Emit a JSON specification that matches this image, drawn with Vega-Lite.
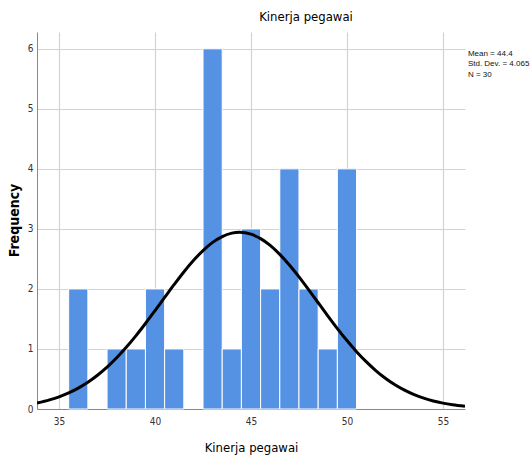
{
  "$schema": "https://vega.github.io/schema/vega-lite/v6.json",
  "width": 428,
  "height": 377,
  "autosize": {"type": "none"},
  "padding": {"left": 37, "top": 32, "right": 67, "bottom": 47},
  "background": "white",
  "config": {
    "view": {"stroke": null},
    "font": "DejaVu Sans Condensed, Liberation Sans",
    "axis": {"labelFont": "DejaVu Sans Condensed, Liberation Sans", "titleFont": "DejaVu Sans Condensed, Liberation Sans"}
  },
  "title": {
    "text": "Kinerja pegawai",
    "anchor": "middle",
    "frame": "group",
    "dx": 55,
    "offset": 8,
    "fontSize": 13,
    "fontWeight": "normal",
    "color": "#000000",
    "font": "DejaVu Sans Condensed, Liberation Sans"
  },
  "datasets": {
    "bars": [
      {"bin_start": 35.5, "bin_end": 36.5, "count": 2},
      {"bin_start": 37.5, "bin_end": 38.5, "count": 1},
      {"bin_start": 38.5, "bin_end": 39.5, "count": 1},
      {"bin_start": 39.5, "bin_end": 40.5, "count": 2},
      {"bin_start": 40.5, "bin_end": 41.5, "count": 1},
      {"bin_start": 42.5, "bin_end": 43.5, "count": 6},
      {"bin_start": 43.5, "bin_end": 44.5, "count": 1},
      {"bin_start": 44.5, "bin_end": 45.5, "count": 3},
      {"bin_start": 45.5, "bin_end": 46.5, "count": 2},
      {"bin_start": 46.5, "bin_end": 47.5, "count": 4},
      {"bin_start": 47.5, "bin_end": 48.5, "count": 2},
      {"bin_start": 48.5, "bin_end": 49.5, "count": 1},
      {"bin_start": 49.5, "bin_end": 50.5, "count": 4}
    ],
    "curve": [
      {"x": 33.85, "y": 0.100},
      {"x": 34.5, "y": 0.152},
      {"x": 35.0, "y": 0.203},
      {"x": 35.5, "y": 0.268},
      {"x": 36.0, "y": 0.348},
      {"x": 36.5, "y": 0.445},
      {"x": 37.0, "y": 0.562},
      {"x": 37.5, "y": 0.697},
      {"x": 38.0, "y": 0.853},
      {"x": 38.5, "y": 1.027},
      {"x": 39.0, "y": 1.218},
      {"x": 39.5, "y": 1.424},
      {"x": 40.0, "y": 1.639},
      {"x": 40.5, "y": 1.858},
      {"x": 41.0, "y": 2.075},
      {"x": 41.5, "y": 2.283},
      {"x": 42.0, "y": 2.473},
      {"x": 42.5, "y": 2.639},
      {"x": 43.0, "y": 2.775},
      {"x": 43.5, "y": 2.873},
      {"x": 44.0, "y": 2.930},
      {"x": 44.4, "y": 2.944},
      {"x": 45.0, "y": 2.912},
      {"x": 45.5, "y": 2.838},
      {"x": 46.0, "y": 2.725},
      {"x": 46.5, "y": 2.576},
      {"x": 47.0, "y": 2.399},
      {"x": 47.5, "y": 2.201},
      {"x": 48.0, "y": 1.989},
      {"x": 48.5, "y": 1.770},
      {"x": 49.0, "y": 1.552},
      {"x": 49.5, "y": 1.340},
      {"x": 50.0, "y": 1.140},
      {"x": 50.5, "y": 0.955},
      {"x": 51.0, "y": 0.788},
      {"x": 51.5, "y": 0.641},
      {"x": 52.0, "y": 0.513},
      {"x": 52.5, "y": 0.404},
      {"x": 53.0, "y": 0.314},
      {"x": 53.5, "y": 0.240},
      {"x": 54.0, "y": 0.181},
      {"x": 54.5, "y": 0.134},
      {"x": 55.0, "y": 0.098},
      {"x": 55.5, "y": 0.071},
      {"x": 56.15, "y": 0.045}
    ],
    "stats": [
      {"x": 56.3, "y": 5.92, "label": "Mean = 44.4"},
      {"x": 56.3, "y": 5.745, "label": "Std. Dev. = 4.065"},
      {"x": 56.3, "y": 5.57, "label": "N = 30"}
    ]
  },
  "layer": [
    {
      "data": {"name": "bars"},
      "mark": {"type": "bar", "color": "#5592e3", "stroke": "white", "strokeWidth": 1, "orient": "vertical"},
      "encoding": {
        "x": {
          "field": "bin_start",
          "type": "quantitative",
          "scale": {"domain": [33.85, 56.15], "nice": false, "zero": false, "padding": 0},
          "axis": {
            "values": [35, 40, 45, 50, 55],
            "format": "d",
            "title": "Kinerja pegawai",
            "titleFontSize": 13,
            "titleFontWeight": "normal",
            "titleColor": "#000000",
            "titleX": 214,
            "titleY": 38,
            "titleBaseline": "middle",
            "titleAlign": "center",
            "labelFontSize": 10,
            "labelColor": "#333333",
            "labelPadding": 7,
            "ticks": false,
            "domainColor": "#8a8a8a",
            "domainWidth": 1,
            "gridColor": "#d3d3d3",
            "gridWidth": 1.2
          }
        },
        "x2": {"field": "bin_end"},
        "y": {
          "field": "count",
          "type": "quantitative",
          "scale": {"domain": [0, 6.28], "nice": false, "padding": 0},
          "axis": {
            "values": [0, 1, 2, 3, 4, 5, 6],
            "format": "d",
            "title": "Frequency",
            "titleFontSize": 14,
            "titleFontWeight": "bold",
            "titleColor": "#000000",
            "titleX": -23,
            "titleY": 188,
            "titleAngle": -90,
            "titleBaseline": "middle",
            "titleAlign": "center",
            "labelFontSize": 10,
            "labelColor": "#333333",
            "labelPadding": 4,
            "ticks": false,
            "domainColor": "#8a8a8a",
            "domainWidth": 1,
            "gridColor": "#d3d3d3",
            "gridWidth": 1.2
          }
        },
        "y2": {"datum": 0}
      }
    },
    {
      "data": {"name": "curve"},
      "mark": {"type": "line", "color": "#000000", "strokeWidth": 3, "interpolate": "monotone", "clip": true},
      "encoding": {
        "x": {"field": "x", "type": "quantitative"},
        "y": {"field": "y", "type": "quantitative"}
      }
    },
    {
      "data": {"name": "stats"},
      "mark": {"type": "text", "align": "left", "baseline": "middle", "fontSize": 8, "color": "#111111", "font": "Liberation Sans", "clip": false},
      "encoding": {
        "x": {"field": "x", "type": "quantitative"},
        "y": {"field": "y", "type": "quantitative"},
        "text": {"field": "label"}
      }
    }
  ]
}
